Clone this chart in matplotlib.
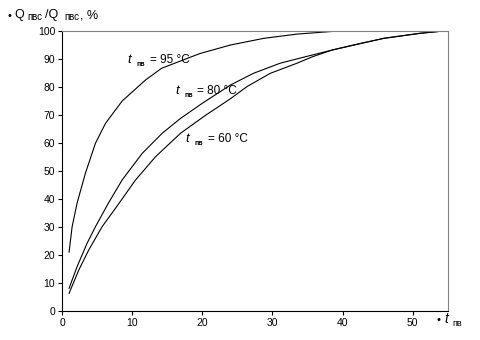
import matplotlib
matplotlib.use("Agg")
import matplotlib.pyplot as plt

plt.rcParams['font.family'] = ['Liberation Sans', 'DejaVu Sans']

# heating-up time, min, and share of heat delivered, %
x_95 = [1, 1.43, 2.14, 3.33, 4.76, 6.19, 8.57, 11.9, 14.2, 19.6, 24, 28.8, 33.5, 38.3, 40]
y_95 = [21, 30, 38.5, 49.2, 59.9, 67, 75, 82.5, 86.7, 91.9, 95, 97.4, 98.9, 99.8, 100]

x_80 = [1, 2.14, 3.57, 4.76, 6.67, 8.57, 11.43, 14.29, 16.9, 20, 24, 27.3, 31.1, 35, 38.5,
        42.3, 45.9, 51.1, 54.4]
y_80 = [8.1, 15.8, 24.2, 30.1, 38.8, 46.8, 56.3, 63.5, 68.8, 74.2, 80.7, 84.9, 88.5, 91, 93.2,
        95.4, 97.4, 99.2, 100]

x_60 = [1, 2.38, 3.81, 5.71, 7.62, 10.48, 13.33, 16.9, 20.4, 24, 26.4, 29.7, 33.5, 35.7, 38.5,
        42.3, 45.9, 51.1, 54.4]
y_60 = [6.3, 14.6, 21.8, 30.1, 36.7, 46.8, 55.1, 63.5, 69.8, 75.8, 80.2, 84.9, 88.5, 90.8, 93.2,
        95.4, 97.4, 99.2, 100]

labels = ['95 °C', '80 °C', '60 °C']
label_pos = [(9.3, 89.5), (16.1, 78.5), (17.6, 61.5)]

fig = plt.figure(figsize=(4.81, 3.40), dpi=100)
ax = fig.add_axes([0.129, 0.0853, 0.802, 0.8235])

for xs, ys in [(x_95, y_95), (x_80, y_80), (x_60, y_60)]:
    ax.plot(xs, ys, color='black', linewidth=0.8)

for text, (lx, ly) in zip(labels, label_pos):
    ax.text(lx, ly, 't', fontsize=9.5, fontstyle='italic', va='center', ha='left')
    ax.text(lx + 1.3, ly - 1.5, 'пв', fontsize=5, fontweight='bold', va='center', ha='left')
    ax.text(lx + 3.2, ly, '= ' + text, fontsize=8.5, va='center', ha='left')

ax.set_xlim(0, 55)
ax.set_ylim(0, 100)
ax.set_xticks([0, 10, 20, 30, 40, 50])
ax.set_yticks(range(0, 101, 10))
ax.tick_params(direction='out', length=3, width=0.8, labelsize=7.5, pad=2, colors='black')

for side in ['top', 'right']:
    ax.spines[side].set_color('#808080')
    ax.spines[side].set_linewidth(0.8)
for side in ['left', 'bottom']:
    ax.spines[side].set_linewidth(0.8)

# axis titles in the corners
fig.text(8 / 481, 1 - 16 / 340, '•', fontsize=8, va='center', ha='left')
fig.text(14 / 481, 1 - 15 / 340, 'Q', fontsize=9, va='center', ha='left')
fig.text(27 / 481, 1 - 17 / 340, 'пвс', fontsize=7, va='center', ha='left')
fig.text(45 / 481, 1 - 15 / 340, '/Q', fontsize=9, va='center', ha='left')
fig.text(64 / 481, 1 - 17 / 340, 'пвс', fontsize=7, va='center', ha='left')
fig.text(80 / 481, 1 - 15 / 340, ', %', fontsize=9, va='center', ha='left')

fig.text(437 / 481, 1 - 320 / 340, '•', fontsize=8, va='center', ha='left')
fig.text(444 / 481, 1 - 319 / 340, 't', fontsize=10, fontstyle='italic', va='center', ha='left')
fig.text(452 / 481, 1 - 323 / 340, 'пв', fontsize=6.5, va='center', ha='left')

fig.savefig('out.png', dpi=100)
